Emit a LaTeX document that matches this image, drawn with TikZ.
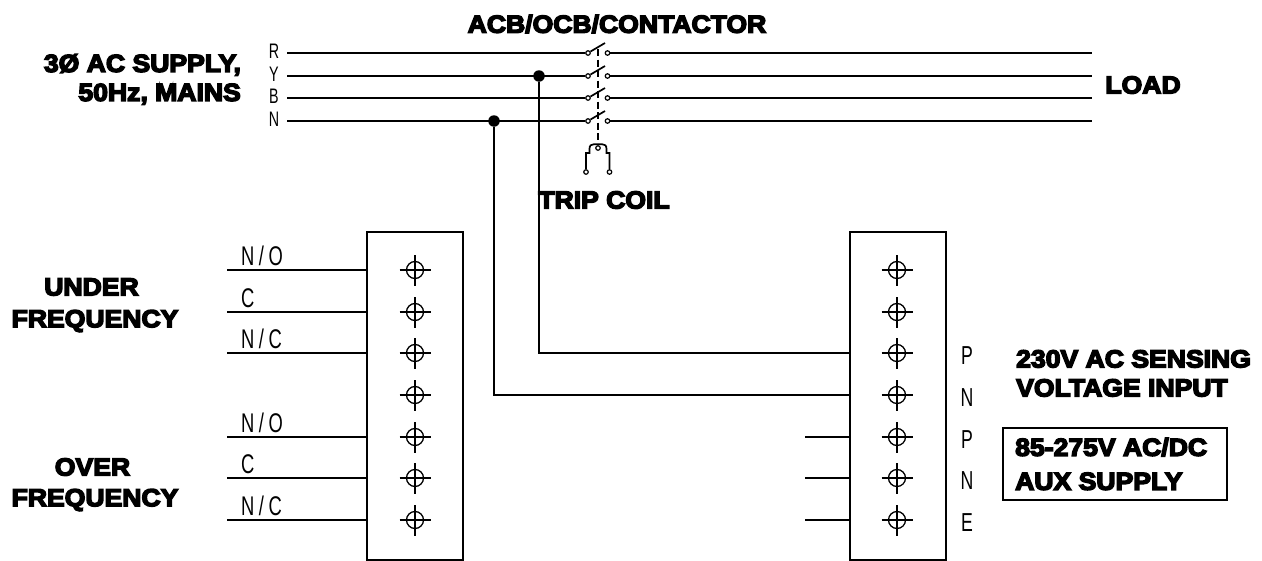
\documentclass[tikz,border=0pt]{standalone}
\usepackage{fontspec}
\setmainfont{Liberation Sans}
\newfontfamily\boldlab[FakeBold=6,FakeStretch=1.08]{Liberation Sans Bold}
\newfontfamily\thinlab[FakeStretch=0.68]{Liberation Sans}
\usetikzlibrary{calc}
\tikzset{
  wire/.style={line width=1.7pt,line cap=butt},
  thin wire/.style={line width=1.3pt},
  boldtext/.style={inner sep=0pt,font=\boldlab\fontsize{24.6}{29}\selectfont,align=left},
  code/.style={inner sep=0pt,font=\thinlab\fontsize{27}{28}\selectfont},
  smallcode/.style={inner sep=0pt,font=\thinlab\fontsize{21}{22}\selectfont},
  sidecode/.style={inner sep=0pt,font=\thinlab\fontsize{26}{27}\selectfont},
  blockbox/.style={draw,line width=1.5pt,rectangle,anchor=north west,inner sep=0pt},
  term/.style={circle,draw,line width=1.3pt,inner sep=0pt,minimum size=17pt},
  contact/.style={circle,draw,line width=1.2pt,inner sep=0pt,minimum size=4.5pt,fill=white},
  junction/.style={circle,fill=black,inner sep=0pt,minimum size=11.5pt},
}
\newcommand{\termat}[3]{%
  \node[term] (#1) at (#2,#3) {};
  \draw[thin wire] ($(#1)+(-15.5,0)$) -- ($(#1)+(15.5,0)$) ($(#1)+(0,15.5)$) -- ($(#1)+(0,-15.5)$);
}
\begin{document}
\begin{tikzpicture}[x=1pt,y=-1pt]
\useasboundingbox (0,0) rectangle (1262,560);
% phase lines
\foreach \n/\y/\lab in {r/53/R,y/76/Y,b/98/B,n/121/N}{
  \node[smallcode] (l\n) at (274,\y-1.5) {\lab};
  \coordinate (st\n) at (287,\y);
  \coordinate (en\n) at (1092,\y);
  \node[contact] (cl\n) at (588,\y) {};
  \node[contact] (cr\n) at (607.5,\y) {};
  \draw[wire] (st\n) -- (cl\n);
  \draw[wire] (cr\n) -- (en\n);
  \draw[wire] (cl\n) -- ($(cl\n)+(17,-10)$);
}
% ganged switch linkage and trip coil
\coordinate (linktop) at (598,49);
\node[contact] (coilc) at (598,148) {};
\node[contact] (coila) at (586,172) {};
\node[contact] (coilb) at (609.5,172) {};
\draw[wire,dash pattern=on 7pt off 3.5pt] (linktop) -- (coilc);
\draw[wire] (coila) -- (586,153) -- (589.5,153) -- (589.5,149) .. controls (589.5,145.5) and (591,144.2) .. (594,144.2) -- (602,144.2) .. controls (605,144.2) and (606.5,145.5) .. (606.5,149) -- (606.5,153) -- (609.5,153) -- (coilb);
% blocks
\node[blockbox,minimum width=96pt,minimum height=328pt] (lbox) at (366,231) {};
\node[blockbox,minimum width=96pt,minimum height=328pt] (rbox) at (849,231) {};
% terminals
\foreach \i/\y in {1/270,2/312,3/353,4/395,5/437,6/478,7/520}{
  \termat{lt\i}{415}{\y}
  \termat{rt\i}{897}{\y}
}
% left wires
\foreach \i/\lab in {1/{N\,/\,O},2/{C},3/{N\,/\,C},5/{N\,/\,O},6/{C},7/{N\,/\,C}}{
  \coordinate (lw\i) at (lbox.west |- lt\i);
  \coordinate (ls\i) at ($(lw\i)-(139,0)$);
  \draw[wire] (ls\i) -- (lw\i);
  \node[code,anchor=base west] (ll\i) at ($(ls\i)+(14,-5)$) {\lab};
}
% right stubs
\foreach \i in {5,6,7}{
  \coordinate (rw\i) at (rbox.west |- rt\i);
  \coordinate (rs\i) at ($(rw\i)-(44,0)$);
  \draw[wire] (rs\i) -- (rw\i);
}
% sensing wires
\node[junction] (jy) at (539,76) {};
\node[junction] (jn) at (494,121) {};
\coordinate (ry) at (rbox.west |- rt3);
\coordinate (rn) at (rbox.west |- rt4);
\draw[wire] (jy) |- (ry);
\draw[wire] (jn) |- (rn);
% right labels
\foreach \n/\y/\lab in {a/353/P,b/395.5/N,c/437/P,d/478/N,e/520/E}{
  \node[sidecode] (pl\n) at (967,\y+2.5) {\lab};
}
% bold labels
\node[boldtext] (acb) at (617,24) {ACB/OCB/CONTACTOR};
\node[boldtext,align=right,anchor=north east] (supply) at (241,54) {3Ø AC SUPPLY,\\50Hz, MAINS};
\node[boldtext] (load) at (1143,85) {LOAD};
\node[boldtext] (trip) at (604,200) {TRIP COIL};
\node[boldtext] (uf1) at (91.5,287) {UNDER};
\node[boldtext] (uf2) at (95,321) {FREQUENCY};
\node[boldtext] (of1) at (92.5,467) {OVER};
\node[boldtext] (of2) at (95,500) {FREQUENCY};
\node[boldtext,anchor=north west,align=left] (sense) at (1016,350) {230V AC SENSING\\VOLTAGE INPUT};
\node[draw,line width=1.5pt,rectangle,minimum width=224pt,minimum height=72pt,inner sep=0pt] (aux) at (1115,464) {};
\node[boldtext,anchor=west,align=left,font=\boldlab\fontsize{24.6}{34}\selectfont] (auxt) at (1015,464) {85-275V AC/DC\\AUX SUPPLY};
\end{tikzpicture}
\end{document}
